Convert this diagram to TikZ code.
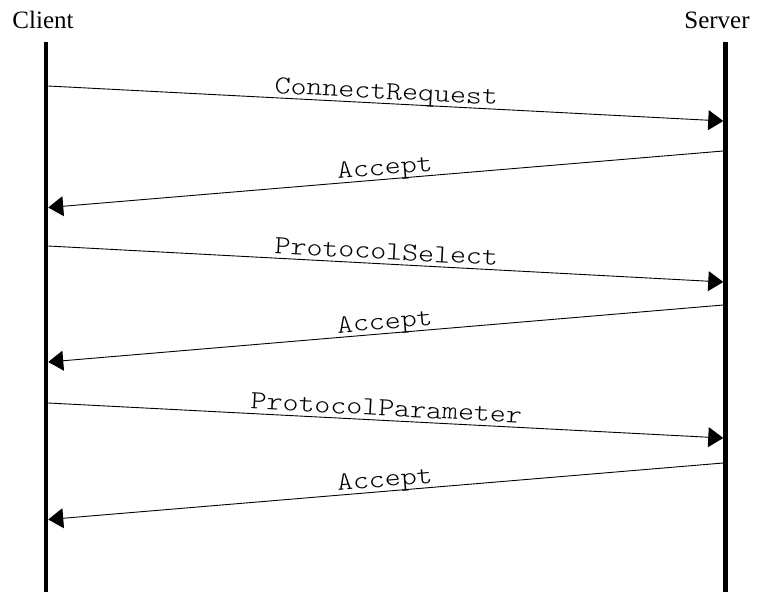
\documentclass[tikz,border=0pt]{standalone}
\usepackage{fontspec}
\setmainfont{Liberation Serif}
\newfontfamily\msgfont{Latin Modern Mono Light}[FakeStretch=1.17]
\usetikzlibrary{arrows.meta}
\begin{document}
\begin{tikzpicture}[x=1pt,y=-1pt,
  life/.style={line width=4.5pt},
  msg/.style={line width=0.9pt,-{Triangle[length=15pt,width=20pt]}},
  lbl/.style={font=\msgfont\fontsize{26}{30}\selectfont,sloped,anchor=base,inner sep=0pt,yshift=4.5pt},
  actor/.style={font=\fontsize{25}{30}\selectfont,anchor=base,inner sep=0pt}]
\useasboundingbox (0,0) rectangle (761,592);
\node[actor] (client) at (43,28) {Client};
\node[actor] (server) at (717,28) {Server};
\coordinate (ctop) at (46,42);
\coordinate (cbot) at (46,592);
\coordinate (stop) at (725.5,42);
\coordinate (sbot) at (725.5,592);
\draw[life] (ctop) -- (cbot);
\draw[life] (stop) -- (sbot);
% message endpoints on the lifelines
\coordinate (c1) at (48.25,86);    \coordinate (s1) at (723.25,121);
\coordinate (s2) at (723.25,151);  \coordinate (c2) at (48.25,207.5);
\coordinate (c3) at (48.25,246);   \coordinate (s3) at (723.25,282);
\coordinate (s4) at (723.25,305);  \coordinate (c4) at (48.25,362);
\coordinate (c5) at (48.25,403);   \coordinate (s5) at (723.25,438);
\coordinate (s6) at (723.25,463);  \coordinate (c6) at (48.25,519.5);
\draw[msg] (c1) -- node[lbl] (m1) {ConnectRequest} (s1);
\draw[msg] (s2) -- node[lbl] (m2) {Accept} (c2);
\draw[msg] (c3) -- node[lbl] (m3) {ProtocolSelect} (s3);
\draw[msg] (s4) -- node[lbl] (m4) {Accept} (c4);
\draw[msg] (c5) -- node[lbl] (m5) {ProtocolParameter} (s5);
\draw[msg] (s6) -- node[lbl] (m6) {Accept} (c6);
\end{tikzpicture}
\end{document}
